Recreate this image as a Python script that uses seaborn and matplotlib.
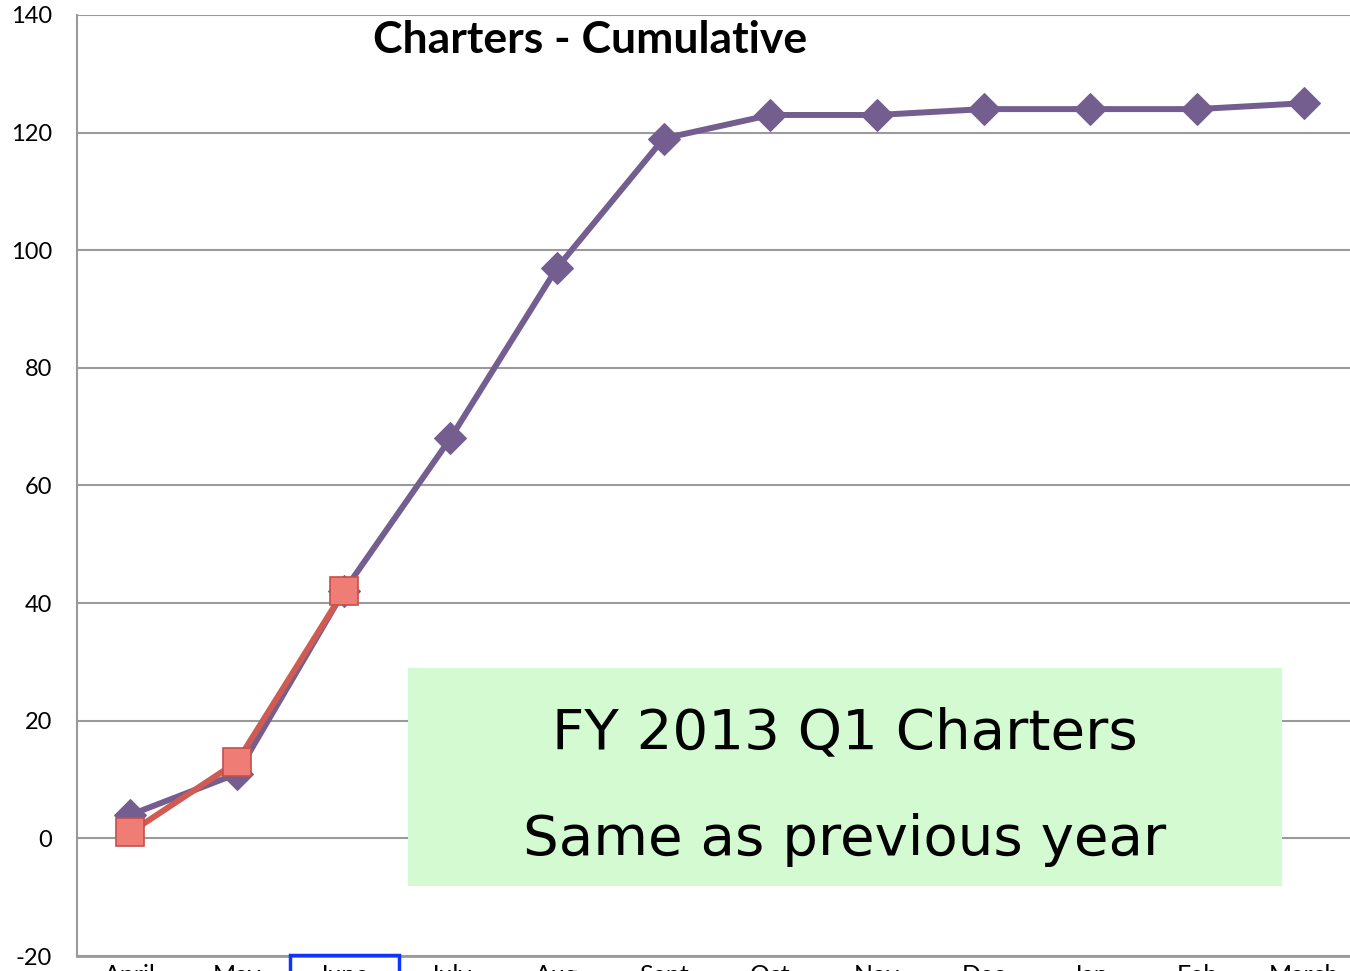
import pandas as pd
import numpy as np
import matplotlib.pyplot as plt
import seaborn as sns
from matplotlib.patches import Rectangle

# Months of the fiscal year
months = ["April", "May", "June", "July", "Aug", "Sept", "Oct", "Nov", "Dec", "Jan", "Feb", "March"]

# Cumulative charters, previous year (purple) and FY 2013 (red)
prev_year = [4, 11, 42, 68, 97, 119, 123, 123, 124, 124, 124, 125]
this_year = [1, 13, 42]

y_ticks = [-20, 0, 20, 40, 60, 80, 100, 120, 140]

prev_df = pd.DataFrame({"month": months, "charters": prev_year})
this_df = pd.DataFrame({"month": months[:len(this_year)], "charters": this_year})

sns.set_theme(style="white")
plt.rcParams['font.family'] = ['Lato', 'DejaVu Sans']
plt.rcParams['text.color'] = 'black'

fig = plt.figure(figsize=(13.5, 9.71), dpi=100)
ax = fig.add_axes([77 / 1350, 15 / 971, 1280 / 1350, 941 / 971])

purple = "#735e8f"
red = "#cf5b52"

sns.lineplot(data=prev_df, x="month", y="charters", ax=ax, sort=False,
             color=purple, linewidth=4.3, marker="D", markersize=16,
             markeredgecolor=purple, markerfacecolor=purple, zorder=3)
sns.lineplot(data=this_df, x="month", y="charters", ax=ax, sort=False,
             color=red, linewidth=4.3, marker="s", markersize=20,
             markeredgecolor="#c4504b", markerfacecolor="#f07c76",
             markeredgewidth=1.2, zorder=4)

ax.set_xlim(-0.5, len(months) - 0.5)
ax.set_ylim(-20, 140)
ax.set_yticks(y_ticks)
ax.set_yticklabels([str(t) for t in y_ticks], fontsize=17)
ax.set_xlabel("")
ax.set_ylabel("")

# horizontal gridlines
ax.grid(axis="y", color="#9a9a9a", linewidth=1.5)
ax.grid(axis="x", visible=False)
ax.set_axisbelow(True)

for side in ["top", "right"]:
    ax.spines[side].set_visible(False)
ax.spines["left"].set_color("#9a9a9a")
ax.spines["left"].set_linewidth(1.5)
ax.spines["bottom"].set_color("#9a9a9a")
ax.spines["bottom"].set_linewidth(2)

ax.tick_params(axis="y", length=5, width=1.5, color="#9a9a9a", pad=13, labelcolor="black")
ax.set_xticks(range(len(months)))
ax.set_xticklabels(months, fontsize=18, color="black")
ax.tick_params(axis="x", which="major", length=0, pad=6)
ax.set_xticks(np.arange(-0.5, len(months), 1), minor=True)
ax.tick_params(axis="x", which="minor", length=12, width=1.5, color="#9a9a9a")

# selection box around June label
ax.add_patch(Rectangle((1.5, -0.03), 1.02, 0.031, transform=ax.get_xaxis_transform(),
                       fill=False, edgecolor="#1133ff", linewidth=2.5, clip_on=False, zorder=5))

fig.text(590 / 1350, 1 - 40 / 971, "Charters - Cumulative", ha="center", va="center",
         fontsize=32, fontweight="bold", color="black")

# annotation box
fig.patches.append(Rectangle((408 / 1350, 1 - 886 / 971), 874 / 1350, 218 / 971,
                             transform=fig.transFigure, facecolor="#d4fad2",
                             edgecolor="none", zorder=6))
fig.text(845 / 1350, 1 - 733 / 971, "FY 2013 Q1 Charters", ha="center", va="center",
         fontsize=40.5, family="DejaVu Sans", color="black", zorder=7)
fig.text(845 / 1350, 1 - 840 / 971, "Same as previous year", ha="center", va="center",
         fontsize=40.5, family="DejaVu Sans", color="black", zorder=7)

fig.savefig("out.png", dpi=100)
